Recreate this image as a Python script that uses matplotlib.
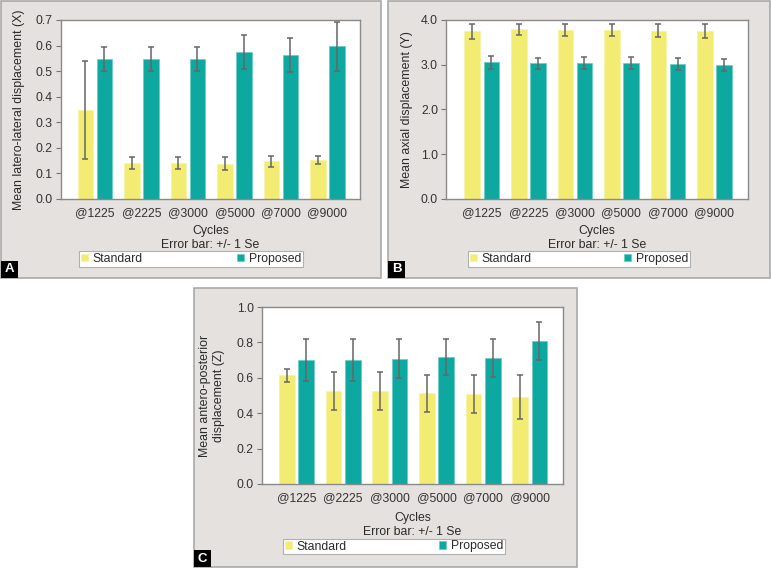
import numpy as np
import matplotlib
matplotlib.use("Agg")
import matplotlib.pyplot as plt
from matplotlib.patches import Rectangle

plt.rcParams['font.family'] = ['Liberation Sans', 'DejaVu Sans']

cycles = ["@1225", "@2225", "@3000", "@5000", "@7000", "@9000"]

# Panel A - latero-lateral (X)
x_std = [0.349, 0.141, 0.141, 0.138, 0.147, 0.152]
x_std_se = [0.192, 0.024, 0.025, 0.025, 0.021, 0.015]
x_prop = [0.546, 0.546, 0.546, 0.575, 0.563, 0.598]
x_prop_se = [0.047, 0.047, 0.047, 0.067, 0.067, 0.096]

# Panel B - axial (Y)
y_std = [3.75, 3.79, 3.78, 3.775, 3.76, 3.75]
y_std_se = [0.17, 0.13, 0.14, 0.14, 0.14, 0.155]
y_prop = [3.056, 3.034, 3.034, 3.04, 3.01, 2.99]
y_prop_se = [0.14, 0.125, 0.13, 0.125, 0.135, 0.13]

# Panel C - antero-posterior (Z)
z_std = [0.613, 0.526, 0.526, 0.513, 0.509, 0.491]
z_std_se = [0.037, 0.108, 0.107, 0.105, 0.109, 0.123]
z_prop = [0.701, 0.701, 0.709, 0.718, 0.712, 0.808]
z_prop_se = [0.12, 0.121, 0.111, 0.103, 0.105, 0.105]

YELLOW = "#f3ec72"
TEAL = "#0da9a0"
PANEL_BG = "#e4e1de"
TXT = "#2a2a2a"
W, H = 771, 568

fig = plt.figure(figsize=(W / 100, H / 100), dpi=100)
fig.patch.set_facecolor("white")


def px_rect(x0, y0, x1, y1):
    # pixel box (top-left origin) -> figure fraction [l, b, w, h]
    return [x0 / W, 1 - y1 / H, (x1 - x0) / W, (y1 - y0) / H]


def panel_bg(x0, y0, x1, y1, letter):
    l, b, w, h = px_rect(x0, y0, x1, y1)
    fig.patches.append(Rectangle((l, b), w, h, transform=fig.transFigure,
                                 facecolor=PANEL_BG, edgecolor="#a9a9a9",
                                 lw=1.2, zorder=-2))
    bl, bb, bw, bh = px_rect(x0, y1 - 17, x0 + 17, y1)
    fig.patches.append(Rectangle((bl, bb), bw, bh, transform=fig.transFigure,
                                 facecolor="black", edgecolor="none", zorder=-1))
    fig.text(bl + bw / 2, bb + bh / 2, letter, color="white", fontsize=9.5,
             fontweight="bold", ha="center", va="center")


def make_panel(axrect, std, std_se, prop, prop_se, ylabel, ymax, ystep,
               xlim, legend_px, label_x, text_y):
    ax = fig.add_axes(px_rect(*axrect))
    ax.set_facecolor("white")
    x = np.arange(len(cycles))
    width = 0.335
    off = 0.205
    ekw = dict(ecolor="#666666", elinewidth=1.1, capthick=1.1)
    ax.bar(x - off, std, width, color=YELLOW, edgecolor="#f7f3a8", lw=0.6,
           yerr=std_se, capsize=2.5, error_kw=ekw, label="Standard", zorder=2)
    ax.bar(x + off, prop, width, color=TEAL, edgecolor="#6fcdc6", lw=0.6,
           yerr=prop_se, capsize=2.5, error_kw=ekw, label="Proposed", zorder=2)
    ax.set_xlim(*xlim)
    ax.set_ylim(0, ymax)
    ticks = np.arange(0, ymax + ystep / 2, ystep)
    ax.set_yticks(ticks)
    ax.set_yticklabels(["%.1f" % v for v in ticks])
    ax.set_xticks(x)
    ax.set_xticklabels(cycles)
    ax.tick_params(axis="x", length=0, pad=6, labelsize=8.8, labelcolor="#333333")
    ax.tick_params(axis="y", length=3.8, width=0.8, color="#777777", pad=2,
                   labelsize=8.8, labelcolor="#333333")
    for s in ax.spines.values():
        s.set_color("#8a8a8a")
        s.set_linewidth(1.0)
    ax.set_ylabel(ylabel, fontsize=8.9, color=TXT, linespacing=1.2)
    ax.yaxis.set_label_coords(label_x, 0.5)

    # x-axis caption lines
    cx = (axrect[0] + axrect[2]) / 2 / W
    fig.text(cx, 1 - text_y[0] / H, "Cycles", fontsize=8.8, color=TXT,
             ha="center", va="center")
    fig.text(cx, 1 - text_y[1] / H, "Error bar: +/- 1 Se", fontsize=8.8,
             color=TXT, ha="center", va="center")

    lx0, ly0, lx1, ly1 = legend_px
    bl, bb, bw, bh = px_rect(lx0, ly0, lx1, ly1)
    leg = fig.legend(handles=ax.patches[:1] + ax.patches[6:7],
                     labels=["Standard", "Proposed"], ncol=2, mode="expand",
                     bbox_to_anchor=(bl, bb, bw, bh), loc="center",
                     bbox_transform=fig.transFigure, fontsize=8.8,
                     handlelength=0.55, handleheight=0.55, handletextpad=0.4,
                     borderpad=0.15, borderaxespad=0, fancybox=False,
                     framealpha=1, edgecolor="#b0b0b0")
    leg.get_frame().set_linewidth(0.8)
    for t in leg.get_texts():
        t.set_color(TXT)
    return ax


panel_bg(1, 1, 381, 278, "A")
panel_bg(388, 1, 770, 278, "B")
panel_bg(194, 288, 577, 567, "C")

make_panel((61, 20, 360, 199), x_std, x_std_se, x_prop, x_prop_se,
           "Mean latero-lateral displacement (X)", 0.7, 0.1,
           (-0.73, 5.70), (79, 251, 303, 267), -0.122, (231, 245))
make_panel((446, 20, 748, 199), y_std, y_std_se, y_prop, y_prop_se,
           "Mean axial displacement (Y)", 4.0, 1.0,
           (-0.77, 5.72), (468, 251, 690, 267), -0.11, (231, 245))
make_panel((262, 307, 563, 484), z_std, z_std_se, z_prop, z_prop_se,
           "Mean antero-posterior\ndisplacement (Z)", 1.0, 0.2,
           (-0.74, 5.71), (283, 539, 505, 554), -0.122, (518, 532))

fig.savefig("out.png", dpi=100, facecolor="white")
